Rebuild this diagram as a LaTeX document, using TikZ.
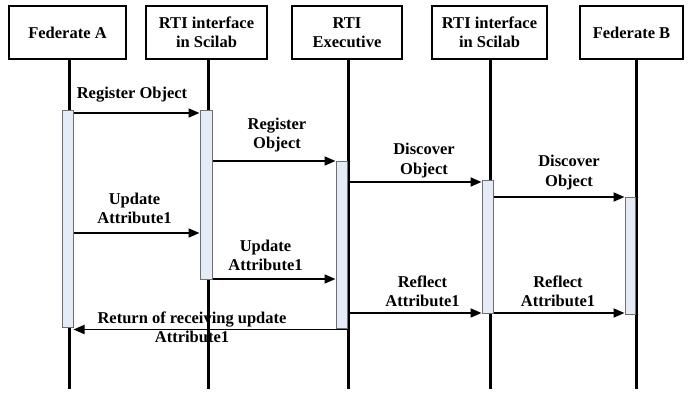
\documentclass[tikz,border=0pt]{standalone}
\usepackage{fontspec}
\setmainfont{Liberation Serif}
\usetikzlibrary{arrows.meta}
\definecolor{barfill}{RGB}{230,236,247}
\definecolor{barline}{RGB}{110,110,110}
\tikzset{
  actor/.style={draw=black, line width=2pt, fill=white, inner sep=0pt, align=center,
    font=\bfseries\fontsize{16.5}{19.5}\selectfont},
  lifeline/.style={line width=3pt},
  actbar/.style={draw=barline, line width=1pt, fill=barfill, inner sep=0pt},
  msg/.style={line width=1.8pt, -{Triangle[length=11pt,width=9pt]}},
  msglabel/.style={align=center, inner sep=0pt, font=\bfseries\fontsize{16.5}{19.5}\selectfont}
}
\begin{document}
\begin{tikzpicture}[x=1pt,y=-1pt]
\useasboundingbox (0,0) rectangle (694,392);

% header boxes
\node[actor, minimum width=117pt, minimum height=53pt] (fa) at (67.5,32.5) {Federate A};
\node[actor, minimum width=121pt, minimum height=53pt] (ia) at (206.5,32.5) {RTI interface\\in Scilab};
\node[actor, minimum width=110pt, minimum height=53pt] (ex) at (347,32.5) {RTI\\Executive};
\node[actor, minimum width=115pt, minimum height=53pt] (ib) at (489.5,32.5) {RTI interface\\in Scilab};
\node[actor, minimum width=103pt, minimum height=53pt] (fb) at (631.5,32.5) {Federate B};

% message labels
\node[msglabel] (l1) at (132,95) {Register Object};
\node[msglabel] (l2) at (277,135) {Register\\Object};
\node[msglabel] (l3) at (424,160.5) {Discover\\Object};
\node[msglabel] (l4) at (569,172.5) {Discover\\Object};
\node[msglabel] (l5) at (134.5,208.5) {Update\\Attribute1};
\node[msglabel] (l6) at (265.5,255.5) {Update\\Attribute1};
\node[msglabel] (l7) at (422.5,291.5) {Reflect\\Attribute1};
\node[msglabel] (l8) at (558,291.5) {Reflect\\Attribute1};
\node[msglabel] (l9) at (192,327.5) {Return of receiving update\\Attribute1};

% lifelines
\coordinate (ea) at (69,389);
\coordinate (eb) at (208,389);
\coordinate (ec) at (348.5,389);
\coordinate (ed) at (490,389);
\coordinate (ee) at (636,389);
\draw[lifeline] (fa.south -| ea) -- (ea);
\draw[lifeline] (ia.south -| eb) -- (eb);
\draw[lifeline] (ex.south -| ec) -- (ec);
\draw[lifeline] (ib.south -| ed) -- (ed);
\draw[lifeline] (fb.south -| ee) -- (ee);

% activation bars
\node[actbar, minimum width=11pt, minimum height=217pt] (ba) at (67.5,218.5) {};
\node[actbar, minimum width=12pt, minimum height=169pt] (bb) at (206,194.5) {};
\node[actbar, minimum width=11pt, minimum height=167pt] (bc) at (341.5,244.5) {};
\node[actbar, minimum width=11pt, minimum height=133pt] (bd) at (487.5,246.5) {};
\node[actbar, minimum width=10pt, minimum height=117pt] (be) at (630,255.5) {};

% messages
\draw[msg] (ba.east |- 0,113) -- (bb.west |- 0,113);
\draw[msg] (bb.east |- 0,161) -- (bc.west |- 0,161);
\draw[msg] (ec |- 0,182) -- (bd.west |- 0,182);
\draw[msg] (bd.east |- 0,197) -- (be.west |- 0,197);
\draw[msg] (ba.east |- 0,233) -- (bb.west |- 0,233);
\draw[msg] (bb.east |- 0,279) -- (bc.west |- 0,279);
\draw[msg] (ec |- 0,313) -- (bd.west |- 0,313);
\draw[msg] (bd.east |- 0,313) -- (be.west |- 0,313);
\draw[msg] (ec |- 0,329.5) -- (ba.east |- 0,329.5);
\end{tikzpicture}
\end{document}
